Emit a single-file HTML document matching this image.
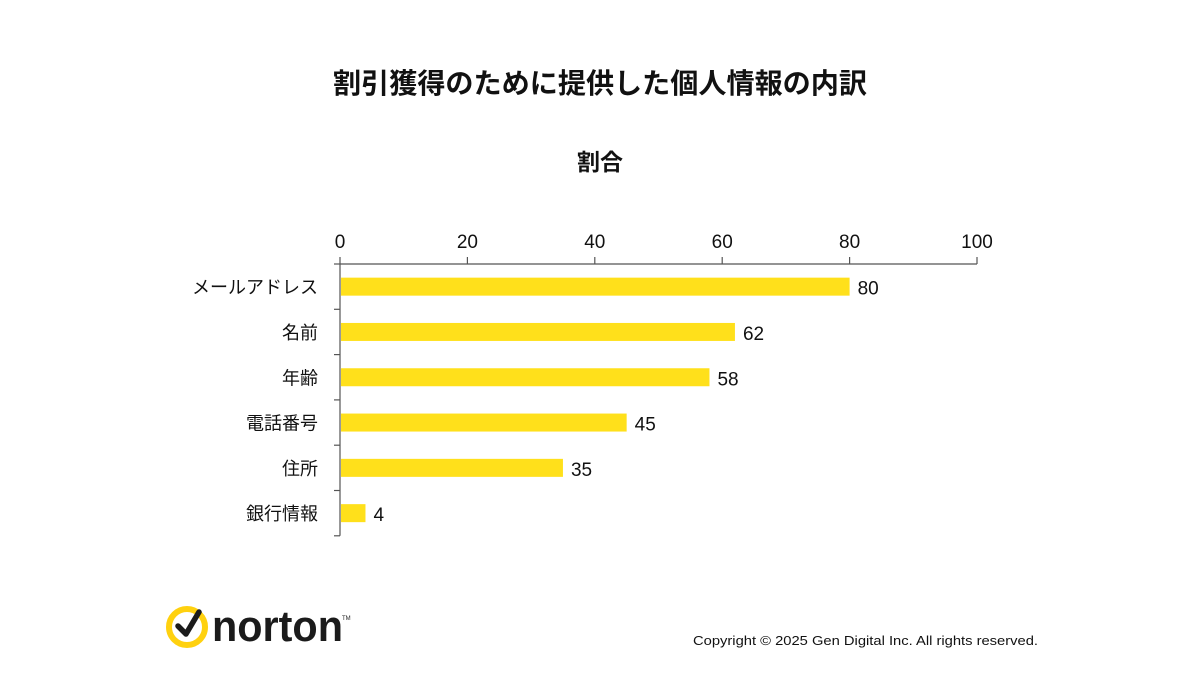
<!DOCTYPE html>
<html><head><meta charset="utf-8"><style>
body{margin:0;width:1200px;height:675px;background:#fff;overflow:hidden;font-family:"Liberation Sans","Noto Sans CJK JP",sans-serif}
</style></head><body>
<svg width="1200" height="675" style="position:absolute;left:0;top:0">
<text x="600" y="93" text-anchor="middle" font-size="28" font-weight="bold" fill="#111" textLength="534" lengthAdjust="spacingAndGlyphs">割引獲得のために提供した個人情報の内訳</text>
<text x="600" y="170" text-anchor="middle" font-size="23" font-weight="bold" fill="#111">割合</text>
<g id="plot"></g>
<g>
<circle cx="187" cy="627" r="18" fill="none" stroke="#FFD10F" stroke-width="6"/>
<path d="M178 626 L186 634 L199 612" fill="none" stroke="#1b1b1b" stroke-width="5.5" stroke-linecap="round" stroke-linejoin="round"/>
<text x="212" y="641" font-size="44" font-weight="bold" fill="#1b1b1b" textLength="131" lengthAdjust="spacingAndGlyphs">norton</text>
<text x="342" y="620" font-size="6" fill="#1b1b1b">TM</text>
</g>
<text x="693" y="645" font-size="13" fill="#111" textLength="345" lengthAdjust="spacingAndGlyphs">Copyright © 2025 Gen Digital Inc. All rights reserved.</text>
</svg>
<script>
const categories=["メールアドレス","名前","年齢","電話番号","住所","銀行情報"];
const values=[80,62,58,45,35,4];
const ticks=[0,20,40,60,80,100];
const NS="http://www.w3.org/2000/svg";
const g=document.getElementById('plot');
const x0=340,x1=977,yTop=264,step=45.3;
const xs=v=>x0+(x1-x0)*v/100;
function el(t,a,txt){const e=document.createElementNS(NS,t);for(const k in a)e.setAttribute(k,a[k]);if(txt!=null)e.textContent=txt;g.appendChild(e);return e;}
let ax=el('line',{x1:x0,x2:x1,y1:yTop,y2:yTop,stroke:'#555','stroke-width':1.2});


let ay=el('line',{x1:x0,x2:x0,y1:yTop,y2:yTop+step*categories.length,stroke:'#555','stroke-width':1.2});


ticks.forEach(t=>{
 el('line',{x1:xs(t),x2:xs(t),y1:yTop,y2:yTop-7,stroke:'#555','stroke-width':1.2});
 let l=el('text',{x:xs(t),y:yTop-16,'text-anchor':'middle','font-size':19,fill:'#111'},t);
 
 
});
for(let i=0;i<=categories.length;i++)el('line',{x1:x0-6,x2:x0,y1:yTop+step*i,y2:yTop+step*i,stroke:'#555','stroke-width':1.2});
categories.forEach((c,i)=>{
 const cy=yTop+step*(i+0.5);
 let b=el('rect',{x:x0+1,y:cy-9,width:xs(values[i])-x0-1,height:18,fill:'#FFE01B'});
 
 
 let v=el('text',{x:xs(values[i])+8,y:cy+8,'font-size':19,fill:'#111'},values[i]);
 
 
 let l=el('text',{x:x0-22,y:cy+7,'text-anchor':'end','font-size':18,fill:'#111'},c);
 
 
});
</script>
</body></html>
